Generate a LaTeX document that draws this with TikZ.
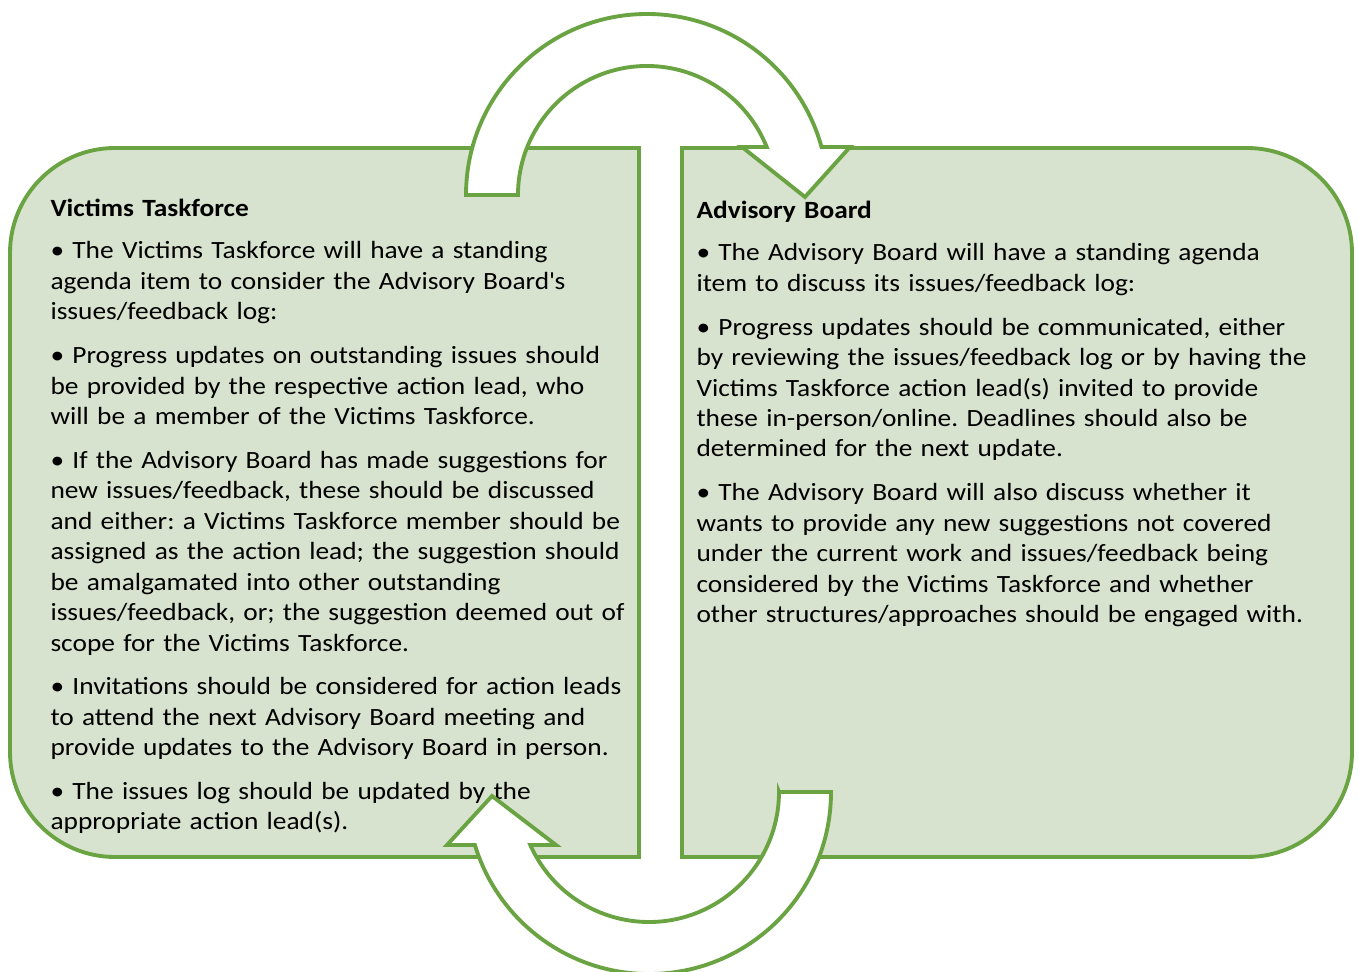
\documentclass[tikz,border=0pt]{standalone}
\usepackage{fontspec}
\setmainfont{Carlito}[FakeStretch=1.105]
\frenchspacing
\usetikzlibrary{positioning}
\definecolor{panelfill}{RGB}{215,227,206}
\definecolor{panelline}{RGB}{106,163,66}

\begin{document}
\begin{tikzpicture}[x=0.02cm, y=-0.02cm, line join=miter, semithick,
	panel/.style={draw=panelline, line width=2.2pt, fill=panelfill},
	turnarrow/.style={draw=panelline, line width=2.2pt, fill=white},
	column/.style={anchor=base west, align=left, text width=13cm, inner sep=0pt, font=\fontsize{14.1}{17.35}\selectfont}]
	\useasboundingbox (0,0) rectangle (1358,972);
	\path[panel] (639,148) -- (115,148) arc[start angle=270, end angle=180, radius=105] -- (10,752) arc[start angle=180, end angle=90, radius=105] -- (639,857) -- cycle;
	\path[panel] (682,148) -- (1247,148) arc[start angle=270, end angle=360, radius=105] -- (1352,752) arc[start angle=0, end angle=90, radius=105] -- (682,857) -- cycle;
	\node[column] (taskforce) at (50,217) {\textbf{Victims Taskforce}\\[6.5pt]
		• The Victims Taskforce will have a standing\\
		agenda item to consider the Advisory Board\textquotesingle s\\
		issues/feedback log:\\[7.5pt]
		• Progress updates on outstanding issues should\\
		be provided by the respective action lead, who\\
		will be a member of the Victims Taskforce.\\[7.5pt]
		• If the Advisory Board has made suggestions for\\
		new issues/feedback, these should be discussed\\
		and either: a Victims Taskforce member should be\\
		assigned as the action lead; the suggestion should\\
		be amalgamated into other outstanding\\
		issues/feedback, or; the suggestion deemed out of\\
		scope for the Victims Taskforce.\\[7.5pt]
		• Invitations should be considered for action leads\\
		to attend the next Advisory Board meeting and\\
		provide updates to the Advisory Board in person.\\[7.5pt]
		• The issues log should be updated by the\\
		appropriate action lead(s).};
	\node[column] (board) at (696,219) {\textbf{Advisory Board}\\[6.5pt]
		• The Advisory Board will have a standing agenda\\
		item to discuss its issues/feedback log:\\[7.5pt]
		• Progress updates should be communicated, either\\
		by reviewing the issues/feedback log or by having the\\
		Victims Taskforce action lead(s) invited to provide\\
		these in-person/online. Deadlines should also be\\
		determined for the next update.\\[7.5pt]
		• The Advisory Board will also discuss whether it\\
		wants to provide any new suggestions not covered\\
		under the current work and issues/feedback being\\
		considered by the Victims Taskforce and whether\\
		other structures/approaches should be engaged with.};
	\path[turnarrow] (466,195) arc[start angle=180, end angle=344.6, radius=181] -- (850,147) -- (805,197) -- (742,147) -- (766.7,147) arc[start angle=338.15, end angle=180, radius=129] -- cycle;
	\path[turnarrow] (779,792) -- (831,792) arc[start angle=0, end angle=163.07, radius=182] -- (447,845) -- (492,796) -- (556,845) -- (530.3,845) arc[start angle=155.93, end angle=0, radius=130] -- cycle;
\end{tikzpicture}
\end{document}
